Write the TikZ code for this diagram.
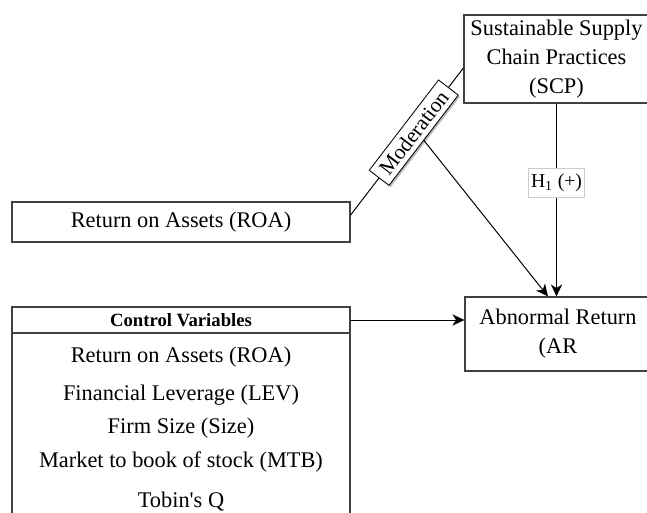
\documentclass[tikz,border=0pt]{standalone}
\usepackage{fontspec}
\setmainfont{Liberation Serif}
\usetikzlibrary{arrows.meta, shadows}

\begin{document}
\begin{tikzpicture}[x=0.025cm, y=-0.025cm,
  varbox/.style={draw=black!75, line width=0.8pt, inner sep=0pt, align=center, font=\fontsize{15.9}{20.5}\selectfont},
  listitem/.style={anchor=base, inner sep=0pt, font=\fontsize{15.9}{19}\selectfont},
  arr/.style={-{Stealth[length=8.5pt, width=8pt, inset=2.5pt]}, line width=0.7pt},
  modlabel/.style={draw, fill=white, line width=0.6pt, inner xsep=5pt, inner ysep=3.5pt, font=\fontsize{15.2}{18}\selectfont,
    drop shadow={shadow xshift=1.2pt, shadow yshift=-1.2pt, opacity=0.45, fill=black!60}},
  hyp/.style={draw=black!20, fill=white, inner xsep=2pt, minimum height=0.72cm, font=\fontsize{14}{16}\selectfont}]
\useasboundingbox (0,0) rectangle (647,513);
% variables
\node[varbox, minimum width=4.625cm, minimum height=2.2cm] (scp) at (556.5,59) {Sustainable Supply\\Chain Practices\\(SCP)};
\node[varbox, minimum width=4.65cm, minimum height=1.85cm] (ar) at (558,334) {Abnormal Return\\(AR};
\node[varbox, minimum width=8.45cm, minimum height=1cm] (roa) at (181,222) {Return on Assets (ROA)};
% controls
\node[varbox, minimum width=8.45cm, minimum height=5.45cm] (ctrl) at (181,416) {};
\node[varbox, minimum width=8.45cm, minimum height=0.65cm, font=\bfseries\fontsize{13.3}{16}\selectfont] (ctrlhead) at (181,320) {Control Variables};
\node[listitem] (croa) at (181,362) {Return on Assets (ROA)};
\node[listitem] (clev) at (181,400) {Financial Leverage (LEV)};
\node[listitem] (csize) at (181,433) {Firm Size (Size)};
\node[listitem] (cmtb) at (181,467) {Market to book of stock (MTB)};
\node[listitem] (ctobin) at (181,507) {Tobin\textquotesingle s Q};
% paths
\coordinate (roaend) at ([yshift=0.175cm]roa.east);
\coordinate (scpend) at ([yshift=-0.225cm]scp.west);
\draw[line width=0.7pt] (roaend) -- node[modlabel, sloped, pos=0.56] (mod) {Moderation} (scpend);
\draw[arr] (mod.south) -- ([xshift=-0.25cm]ar.north);
\draw[arr] (scp.south) -- node[hyp, pos=0.41] (h1) {H\textsubscript{1} (+)} (scp.south |- ar.north);
\draw[arr] (ctrlhead.east) -- (ctrlhead.east -| ar.west);
\end{tikzpicture}
\end{document}
